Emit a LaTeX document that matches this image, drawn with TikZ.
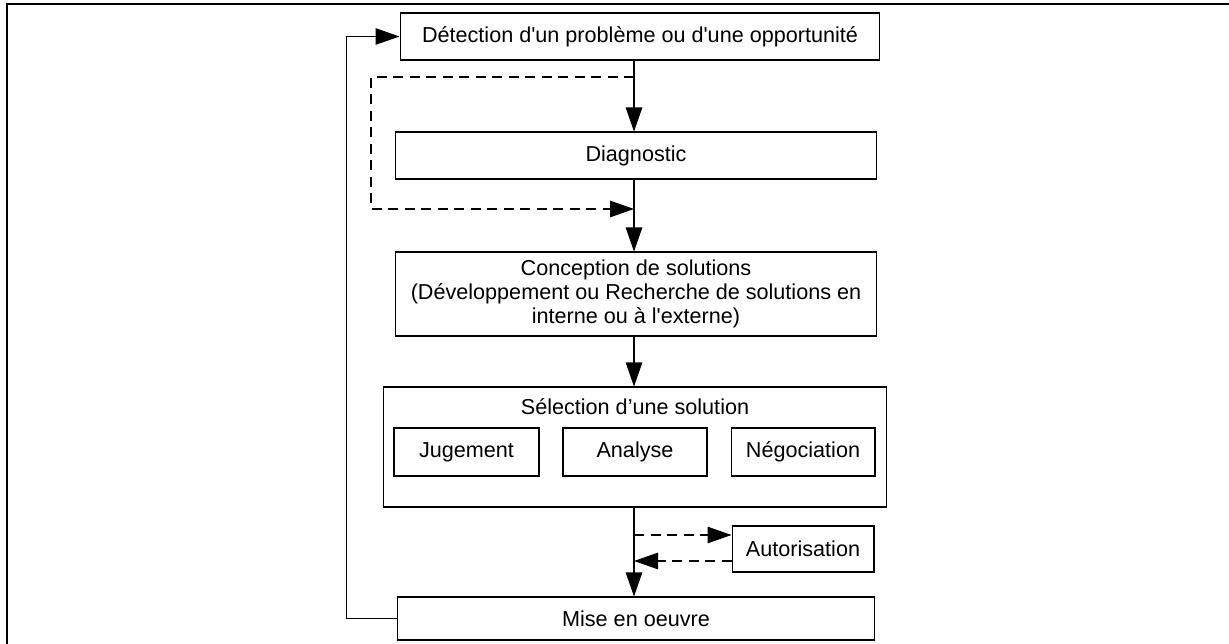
\documentclass[tikz,border=0pt]{standalone}
\usepackage{fontspec}
\setmainfont{Liberation Sans}
\usetikzlibrary{positioning, arrows.meta, calc}

\begin{document}
\begin{tikzpicture}[x=0.02cm, y=-0.02cm,
        box/.style={rectangle, draw, line width=0.6pt, inner sep=0pt, align=center, font=\fontsize{12.3}{13.7}\selectfont},
        flow/.style={line width=0.6pt, -{Triangle[length=0.48cm, width=0.33cm]}},
        back/.style={flow, dash pattern=on 0.2cm off 0.13cm}]
    \useasboundingbox (0,0) rectangle (1229,644);
    \draw[line width=1.1pt] (7,644) -- (7,4) -- (1229,4);

    \node[box, minimum width=9.6cm, minimum height=0.94cm] (detect) at (640,36.5) {D\'etection d\textquotesingle un probl\`eme ou d\textquotesingle une opportunit\'e};
    \node[box, minimum width=9.64cm, minimum height=0.94cm] (diag) at (636,155.5) {Diagnostic};
    \node[box, minimum width=9.64cm, minimum height=1.68cm] (concept) at (636,294) {Conception de solutions\\(D\'eveloppement ou Recherche de solutions en\\interne ou \`a l\textquotesingle externe)};
    \node[box, minimum width=10.08cm, minimum height=2.4cm] (select) at (635,447) {};
    \node[font=\fontsize{12.3}{13.7}\selectfont] (seltitle) at (635,407) {S\'election d’une solution};
    \node[box, minimum width=2.9cm, minimum height=0.96cm] (judge) at (466.5,452) {Jugement};
    \node[box, minimum width=2.88cm, minimum height=0.96cm] (analyse) at (635,452) {Analyse};
    \node[box, minimum width=2.88cm, minimum height=0.96cm] (negot) at (803,452) {N\'egociation};
    \node[box, minimum width=2.84cm, minimum height=0.92cm] (autor) at (803,549) {Autorisation};
    \node[box, minimum width=9.56cm, minimum height=0.86cm] (mise) at (636,618.5) {Mise en oeuvre};

    \coordinate (split) at (634,77);
    \coordinate (join) at (634,209);
    \coordinate (toaut) at ($(autor.west)+(0,-14)$);
    \coordinate (fromaut) at ($(autor.west)+(0,12)$);

    \draw[flow] (detect.south -| split) -- (diag.north -| split);
    \draw[flow] (diag.south -| split) -- (concept.north -| split);
    \draw[flow] (concept.south -| split) -- (select.north -| split);
    \draw[flow] (select.south -| split) -- (mise.north -| split);
    \draw[back] (split) -- ++(-263,0) |- (join);
    \draw[back] (toaut -| split) -- (toaut);
    \draw[back] (fromaut) -- (fromaut -| split);
    \draw[flow] (mise.west) -- ++(-50,0) |- (detect.west);
\end{tikzpicture}
\end{document}
